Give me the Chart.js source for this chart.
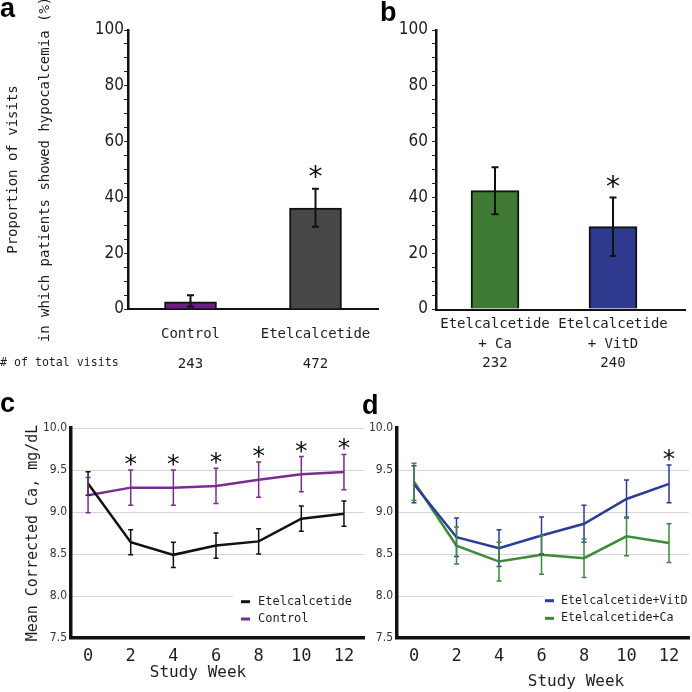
<!DOCTYPE html>
<html><head><meta charset="utf-8">
<script src="https://cdn.jsdelivr.net/npm/chart.js@4.4.0/dist/chart.umd.min.js"></script>
<style>
html,body{margin:0;padding:0;background:#fff;}
body{width:692px;height:692px;position:relative;overflow:hidden;}
canvas{position:absolute;}
.pl{position:absolute;font-family:'Liberation Sans',Arial,sans-serif;font-weight:bold;font-size:27px;line-height:27px;color:#000;}
</style></head><body>
<canvas id="ca" width="384" height="380" style="left:0;top:0"></canvas>
<canvas id="cb" width="312" height="380" style="left:380px;top:0"></canvas>
<canvas id="cc" width="370" height="312" style="left:0;top:380px"></canvas>
<canvas id="cd" width="346" height="312" style="left:346px;top:380px"></canvas>
<div class="pl" style="left:0;top:-5px">a</div>
<div class="pl" style="left:380px;top:-1px">b</div>
<div class="pl" style="left:0;top:390px">c</div>
<div class="pl" style="left:362px;top:392px">d</div>
<script>
// ---------- data ----------
const catsA = ['Control', 'Etelcalcetide'];
const visitsA = ['243', '472'];
const propA = [2.6, 36.2];
const propALow = [0.8, 29.5];
const propAHigh = [4.9, 43.1];
const sigA = [false, true];

const catsB = [['Etelcalcetide', '+ Ca'], ['Etelcalcetide', '+ VitD']];
const visitsB = ['232', '240'];
const propB = [42.4, 29.5];
const propBLow = [34.0, 19.0];
const propBHigh = [50.8, 40.0];
const sigB = [false, true];

const weeks = [0, 2, 4, 6, 8, 10, 12];
const etelMean = [9.34, 8.64, 8.49, 8.60, 8.65, 8.92, 8.98];
const etelSD   = [0.14, 0.15, 0.15, 0.15, 0.15, 0.15, 0.15];
const ctrlMean = [9.20, 9.29, 9.29, 9.31, 9.385, 9.45, 9.475];
const ctrlSD   = [0.21, 0.21, 0.21, 0.21, 0.21, 0.21, 0.21];
const sigC     = [false, true, true, true, true, true, true];

const vitdMean = [9.33, 8.70, 8.57, 8.72, 8.86, 9.155, 9.335];
const vitdSD   = [0.22, 0.23, 0.22, 0.22, 0.22, 0.225, 0.225];
const caMean   = [9.36, 8.60, 8.41, 8.49, 8.45, 8.71, 8.63];
const caSD     = [0.22, 0.22, 0.23, 0.23, 0.23, 0.23, 0.23];
const sigD     = [false, false, false, false, false, false, true];

// ---------- styles ----------
const MONO = "'DejaVu Sans Mono', monospace";
const NARROW = "'DejaVu Sans Condensed', 'Liberation Sans Narrow', 'Liberation Sans', sans-serif";
const TXT = '#1e1e1e';

// ---------- plugins ----------
const errorBars = {
  id: 'errorBars',
  afterDatasetsDraw(chart) {
    const ctx = chart.ctx, ys = chart.scales.y;
    chart.data.datasets.forEach((ds, di) => {
      if (!ds.errLow) return;
      const meta = chart.getDatasetMeta(di);
      ctx.save();
      ctx.strokeStyle = ds.errColor;
      ctx.lineWidth = ds.errWidth;
      meta.data.forEach((el, i) => {
        const x = el.x;
        const yl = ys.getPixelForValue(ds.errLow[i]);
        const yh = ys.getPixelForValue(ds.errHigh[i]);
        const c = ds.capHalf;
        ctx.beginPath();
        ctx.moveTo(x, yl); ctx.lineTo(x, yh);
        ctx.moveTo(x - c, yl); ctx.lineTo(x + c, yl);
        ctx.moveTo(x - c, yh); ctx.lineTo(x + c, yh);
        ctx.stroke();
        if (ds.sig && ds.sig[i]) {
          ctx.fillStyle = '#111';
          ctx.font = ds.starSize + "px 'DejaVu Sans', sans-serif";
          ctx.textAlign = 'center';
          ctx.textBaseline = 'alphabetic';
          ctx.fillText('*', x, yh - ds.starGap + ds.starSize * 0.56);
        }
      });
      ctx.restore();
    });
  }
};

const freeText = {
  id: 'freeText',
  afterDraw(chart, args, opts) {
    const ctx = chart.ctx;
    (opts.texts || []).forEach(t => {
      ctx.save();
      ctx.fillStyle = TXT;
      ctx.font = t.font;
      ctx.textAlign = t.align || 'center';
      ctx.textBaseline = 'middle';
      ctx.fillText(t.text, t.x, t.y);
      ctx.restore();
    });
    if (opts.axisExtend) {
      const a = chart.chartArea;
      ctx.save();
      ctx.strokeStyle = '#111';
      ctx.lineWidth = 2;
      ctx.beginPath();
      ctx.moveTo(a.left - 1, a.bottom + 1);
      ctx.lineTo(a.right + opts.axisExtend, a.bottom + 1);
      ctx.stroke();
      ctx.restore();
    }
  }
};

const boxLegend = {
  id: 'boxLegend',
  afterDraw(chart, args, opts) {
    if (!opts.show) return;
    const ctx = chart.ctx;
    ctx.save();
    ctx.fillStyle = '#fff';
    ctx.fillRect(opts.boxX, opts.boxY, opts.boxW, opts.boxH);
    ctx.font = opts.font;
    ctx.textBaseline = 'middle';
    ctx.textAlign = 'left';
    chart.data.datasets.forEach((ds, i) => {
      const y = opts.y0 + i * opts.dy;
      ctx.strokeStyle = ds.borderColor;
      ctx.lineWidth = 3;
      ctx.beginPath();
      ctx.moveTo(opts.markX, y); ctx.lineTo(opts.markX + 9, y);
      ctx.stroke();
      ctx.fillStyle = TXT;
      ctx.fillText(ds.label, opts.textX, y);
    });
    ctx.restore();
  }
};

Chart.register(errorBars, freeText, boxLegend);

const baseOpts = { responsive: false, animation: false, devicePixelRatio: 1 };

// ---------- panel a ----------
new Chart(document.getElementById('ca'), {
  type: 'bar',
  data: {
    labels: catsA.map((c, i) => [c, '', visitsA[i]]),
    datasets: [{
      data: propA,
      backgroundColor: ['#6b1d86', '#474747'],
      borderColor: '#111', borderWidth: 2, barThickness: 52,
      errLow: propALow, errHigh: propAHigh, errColor: '#111', errWidth: 2, capHalf: 3.5,
      sig: sigA, starSize: 28, starGap: 18
    }]
  },
  options: Object.assign({}, baseOpts, {
    layout: { padding: { left: 0, top: 30, right: 6, bottom: 0 } },
    plugins: {
      legend: { display: false }, tooltip: { enabled: false },
      freeText: { texts: [{ text: '# of total visits', x: 0, y: 363, align: 'left', font: "11.6px " + MONO }] }
    },
    scales: {
      x: {
        grid: { display: false }, border: { color: '#111', width: 2 },
        ticks: { font: { family: MONO, size: 14, lineHeight: '15px' }, color: TXT, padding: 10, maxRotation: 0, autoSkip: false },
        afterFit(s) { s.height = 71; }
      },
      y: {
        min: 0, max: 100,
        ticks: { stepSize: 5, autoSkip: false, callback: v => (v % 20 === 0 ? v : ''), font: { family: NARROW, size: 17 }, color: TXT, padding: 0 },
        grid: { drawOnChartArea: false, tickLength: 4, color: '#222', lineWidth: 1 },
        border: { color: '#111', width: 2.5 },
        title: {
          display: true,
          text: ['Proportion of visits', 'in which patients showed hypocalcemia (%)'],
          font: { family: MONO, size: 14, lineHeight: '32px' }, color: TXT, padding: { top: -3, bottom: 0 }
        },
        afterFit(s) { s.width = 128; }
      }
    }
  })
});

// ---------- panel b ----------
new Chart(document.getElementById('cb'), {
  type: 'bar',
  data: {
    labels: catsB.map((c, i) => [...c, visitsB[i]]),
    datasets: [{
      data: propB,
      backgroundColor: ['#3f7b34', '#2d3a8d'],
      borderColor: '#111', borderWidth: 2, barThickness: 48,
      errLow: propBLow, errHigh: propBHigh, errColor: '#111', errWidth: 2, capHalf: 3.5,
      sig: sigB, starSize: 28, starGap: 17
    }]
  },
  options: Object.assign({}, baseOpts, {
    layout: { padding: { left: 0, top: 30, right: 20, bottom: 0 } },
    plugins: { legend: { display: false }, tooltip: { enabled: false }, freeText: { axisExtend: 14 } },
    scales: {
      x: {
        grid: { display: false }, border: { display: false },
        ticks: { font: { family: MONO, size: 14, lineHeight: '19.5px' }, color: TXT, padding: -2.2, maxRotation: 0, autoSkip: false },
        afterFit(s) { s.height = 71; }
      },
      y: {
        min: 0, max: 100,
        ticks: { stepSize: 5, autoSkip: false, callback: v => (v % 20 === 0 ? v : ''), font: { family: NARROW, size: 17 }, color: TXT, padding: 4 },
        grid: { drawOnChartArea: false, tickLength: 4, color: '#222', lineWidth: 1 },
        border: { color: '#111', width: 2.5 },
        afterFit(s) { s.width = 56; }
      }
    }
  })
});

// ---------- line panels ----------
function lineDs(label, color, mean, sd, sig) {
  return {
    label, borderColor: color, backgroundColor: color, borderWidth: 2.5, pointRadius: 0, tension: 0,
    data: weeks.map((w, i) => ({ x: w, y: mean[i] })),
    errLow: mean.map((m, i) => m - sd[i]), errHigh: mean.map((m, i) => m + sd[i]),
    errColor: color, errWidth: 1.5, capHalf: 2.5, sig, starSize: 25, starGap: 12
  };
}
function lineOpts(yW, padRight, showTop, yTitle, texts, legend) {
  const y = {
    min: 7.5, max: 10,
    ticks: { stepSize: 0.5, callback: v => v.toFixed(1), font: { family: NARROW, size: 12 }, color: '#333', padding: 4 },
    grid: { drawTicks: false, lineWidth: 1, color: c => (c.tick && (c.tick.value === 7.5 || (!showTop && c.tick.value === 10))) ? 'rgba(0,0,0,0)' : '#d6d6d6' },
    border: { color: '#111', width: 3.5 },
    afterFit(s) { s.width = yW; }
  };
  if (yTitle) y.title = { display: true, text: yTitle, font: { family: MONO, size: 15, lineHeight: '18px' }, color: TXT, padding: { top: 24, bottom: 0 } };
  return Object.assign({}, baseOpts, {
    layout: { padding: { left: 0, top: 48, right: padRight, bottom: 0 } },
    plugins: { legend: { display: false }, tooltip: { enabled: false }, freeText: { texts }, boxLegend: legend },
    scales: {
      x: {
        type: 'linear', min: -0.8, max: 12.94,
        afterBuildTicks(s) { s.ticks = weeks.map(v => ({ value: v })); },
        grid: { display: false }, border: { color: '#111', width: 3.5 },
        ticks: { font: { family: MONO, size: 17 }, color: TXT, padding: 0.8 },
        afterFit(s) { s.height = 54; }
      },
      y
    }
  });
}

new Chart(document.getElementById('cc'), {
  type: 'line',
  data: { datasets: [
    lineDs('Etelcalcetide', '#111111', etelMean, etelSD, null),
    lineDs('Control', '#7b2d8e', ctrlMean, ctrlSD, sigC)
  ] },
  options: lineOpts(71, 6, true, 'Mean Corrected Ca, mg/dL',
    [{ text: 'Study Week', x: 198, y: 293, font: '16px ' + MONO }],
    { show: true, boxX: 233, boxY: 206, boxW: 131, boxH: 46, markX: 241, textX: 258, y0: 221.7, dy: 17.3, font: '12px ' + MONO })
});

new Chart(document.getElementById('cd'), {
  type: 'line',
  data: { datasets: [
    lineDs('Etelcalcetide+VitD', '#2b3c97', vitdMean, vitdSD, sigD),
    lineDs('Etelcalcetide+Ca', '#3d8a3a', caMean, caSD, null)
  ] },
  options: lineOpts(51, 3, false, null,
    [{ text: 'Study Week', x: 230, y: 301.7, font: '16px ' + MONO }],
    { show: true, boxX: 197, boxY: 206, boxW: 146, boxH: 46, markX: 199, textX: 215, y0: 220.7, dy: 17.6, font: '11.7px ' + MONO })
});
</script>
</body></html>
